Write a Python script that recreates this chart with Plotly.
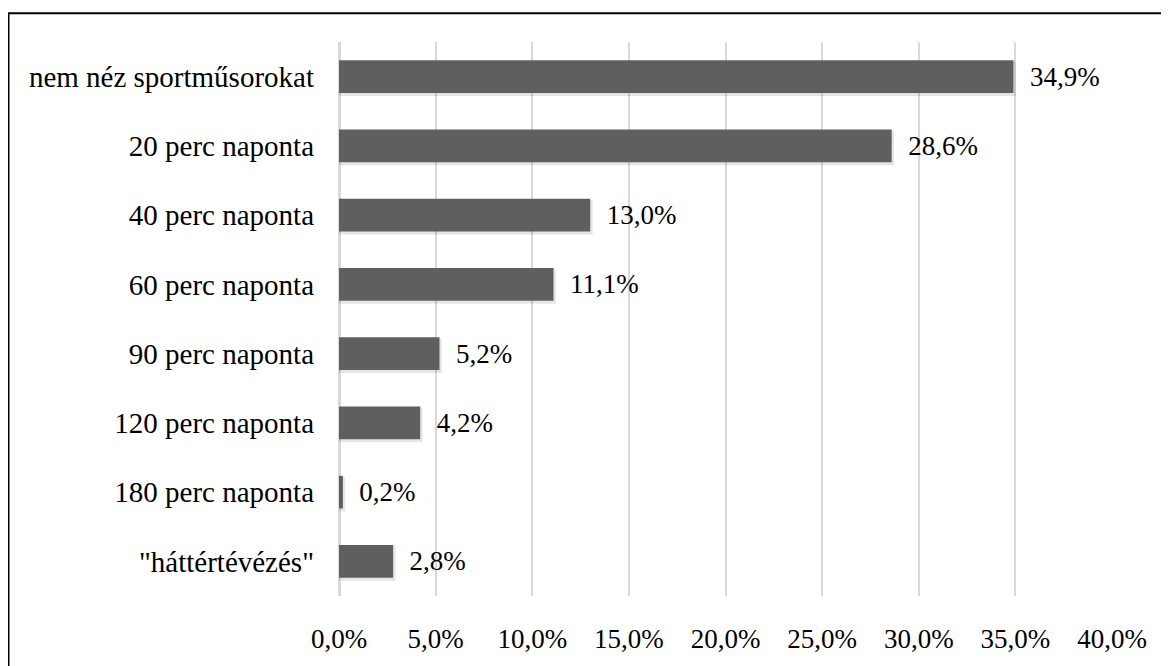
import plotly.graph_objects as go

categories = ["nem néz sportműsorokat", "20 perc naponta", "40 perc naponta", "60 perc naponta",
              "90 perc naponta", "120 perc naponta", "180 perc naponta", "\"háttértévézés\""]
values = [34.9, 28.6, 13.0, 11.1, 5.2, 4.2, 0.2, 2.8]
x_ticks = [0, 5, 10, 15, 20, 25, 30, 35, 40]
x_tick_labels = [f"{v:.1f}%".replace(".", ",") for v in x_ticks]

# page has 8px body margin; figure sized to fill the visible window
W, H = 1161, 658
L, R, T, B = 331, W - 1104, 34, H - 595
pw, ph = W - L - R, H - T - B

font = dict(family="Liberation Serif, serif", size=27, color="#000000")
cat_font = dict(family="Liberation Serif, serif", size=29, color="#000000")

fig = go.Figure()
# soft shadow
fig.add_trace(go.Bar(
    y=categories, x=[v + 0.12 for v in values], orientation="h",
    marker=dict(color="rgba(0,0,0,0.10)", line=dict(width=0)),
    width=0.5, offset=-0.22, hoverinfo="skip",
))
fig.add_trace(go.Bar(
    y=categories, x=values, orientation="h",
    marker=dict(color="#5f5f5f", line=dict(width=0)),
    texttemplate="\u00a0\u00a0%{x:.1f}%", textposition="outside",
    textfont=font, cliponaxis=False, width=0.47, offset=-0.235,
))

fig.update_layout(
    width=W, height=H,
    margin=dict(l=L, r=R, t=T, b=B),
    paper_bgcolor="white", plot_bgcolor="white",
    separators=", ",
    font=font,
    showlegend=False,
    barmode="overlay",
    xaxis=dict(range=[0, 40], tickvals=x_ticks, ticktext=x_tick_labels,
               showgrid=True, gridcolor="#d9d9d9", gridwidth=2, zeroline=True,
               zerolinecolor="#d9d9d9", zerolinewidth=3, showline=False,
               ticks="", ticklabelstandoff=24, tickfont=font),
    yaxis=dict(autorange="reversed", showgrid=False, showline=False, ticks="",
               ticklabelstandoff=24, tickfont=cat_font),
    shapes=[dict(type="rect", xref="paper", yref="paper",
                 x0=(0.5 - L) / pw, x1=1.2, y0=-0.3, y1=(H - B - 5) / ph,
                 line=dict(color="black", width=2), fillcolor="rgba(0,0,0,0)", layer="above")],
)

fig.write_html("out.html")
